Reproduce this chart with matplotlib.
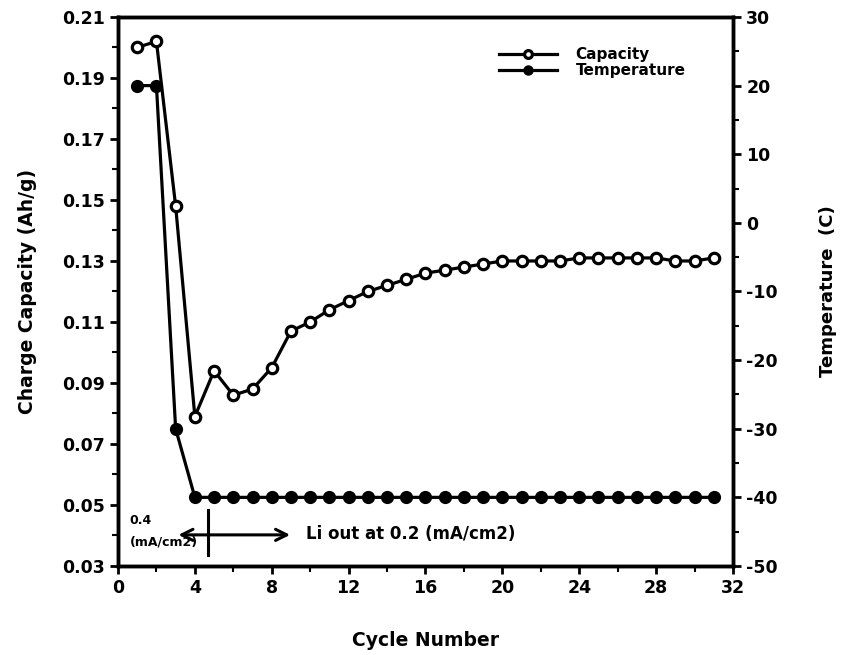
import matplotlib
matplotlib.use("Agg")
import matplotlib.pyplot as plt
from matplotlib.ticker import MultipleLocator, FixedLocator

plt.rcParams['font.family'] = ['DejaVu Sans']
plt.rcParams['font.weight'] = 'bold'
plt.rcParams['axes.unicode_minus'] = False

cycles = list(range(1, 32))
capacity = [0.200, 0.202, 0.148, 0.079, 0.094, 0.086, 0.088, 0.095, 0.107, 0.110,
            0.114, 0.117, 0.120, 0.122, 0.124, 0.126, 0.127, 0.128, 0.129, 0.130,
            0.130, 0.130, 0.130, 0.131, 0.131, 0.131, 0.131, 0.131, 0.130, 0.130, 0.131]
temperature = [20, 20, -30] + [-40] * 28

left_ticks = [0.03, 0.05, 0.07, 0.09, 0.11, 0.13, 0.15, 0.17, 0.19, 0.21]
right_ticks = [-50, -40, -30, -20, -10, 0, 10, 20, 30]
x_ticks = [0, 4, 8, 12, 16, 20, 24, 28, 32]

fig = plt.figure(figsize=(8.47, 6.55), dpi=100)
ax = fig.add_axes([0.1393, 0.1359, 0.7261, 0.8382])
ax2 = ax.twinx()

lw = 2.3
ax.plot(cycles, capacity, '-o', color='black', lw=lw, ms=7.5, mfc='white', mew=2.3,
        label='Capacity', zorder=3)
ax2.plot(cycles, temperature, '-o', color='black', lw=lw, ms=8, mfc='black', mew=1.5,
         label='Temperature', zorder=3)

ax.set_xlim(0, 32)
ax.set_ylim(0.03, 0.21)
ax2.set_ylim(-50, 30)

ax.xaxis.set_major_locator(FixedLocator(x_ticks))
ax.xaxis.set_minor_locator(MultipleLocator(2))
ax.yaxis.set_major_locator(FixedLocator(left_ticks))
ax.yaxis.set_minor_locator(MultipleLocator(0.01))
ax.set_yticklabels([f"{t:.2f}" for t in left_ticks])
ax2.yaxis.set_major_locator(FixedLocator(right_ticks))
ax2.yaxis.set_minor_locator(MultipleLocator(5))

for a in (ax, ax2):
    for s in a.spines.values():
        s.set_linewidth(2.5)
    a.tick_params(which='major', direction='out', length=6, width=2, labelsize=12.5)
    a.tick_params(which='minor', direction='out', length=4, width=1.5)
    for lab in a.get_xticklabels() + a.get_yticklabels():
        lab.set_fontweight('bold')

ax.set_xlabel('Cycle Number', fontsize=13.5, fontweight='bold', labelpad=24)
ax.set_ylabel('Charge Capacity (Ah/g)', fontsize=13.5, fontweight='bold', labelpad=18)
ax2.set_ylabel('Temperature  (C)', fontsize=13, fontweight='bold', labelpad=30)

# annotations
ax.annotate('', xy=(3.0, 0.0402), xytext=(9.1, 0.0402),
            arrowprops=dict(arrowstyle='<->', color='black', lw=2.2, mutation_scale=20))
ax.plot([4.68, 4.68], [0.0336, 0.0484], color='black', lw=2.2)
ax.text(0.6, 0.0448, '0.4', fontsize=9, fontweight='bold', va='center', ha='left')
ax.text(0.6, 0.0378, '(mA/cm2)', fontsize=9, fontweight='bold', va='center', ha='left')
ax.text(9.8, 0.0405, 'Li out at 0.2 (mA/cm2)', fontsize=12, fontweight='bold',
        va='center', ha='left')

h1, l1 = ax.get_legend_handles_labels()
h2, l2 = ax2.get_legend_handles_labels()
leg = ax2.legend(h1 + h2, l1 + l2, loc='upper right', bbox_to_anchor=(0.945, 0.97),
                 frameon=False, handlelength=3.8, handletextpad=1.2, labelspacing=0.05,
                 markerscale=0.75, prop={'weight': 'bold', 'size': 11})

fig.savefig('out.png', dpi=100)
